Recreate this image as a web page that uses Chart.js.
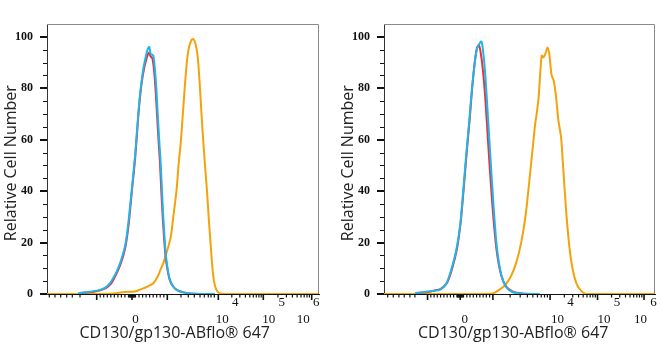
<!DOCTYPE html>
<html>
<head>
<meta charset="utf-8">
<script src="https://cdn.jsdelivr.net/npm/chart.js@4.4.1/dist/chart.umd.min.js"></script>
<style>
  body { margin: 0; background: #fff; overflow: hidden; }
  canvas { position: absolute; top: 0; }
  #leftChart { left: 0; }
  #rightChart { left: 337px; }
</style>
</head>
<body>
<canvas id="leftChart" width="330" height="350"></canvas>
<canvas id="rightChart" width="325" height="350"></canvas>
<script>
// x values are display channels along the biexponential axis (0 = left edge, 272 = right edge)

// left panel
const leftBlueX = [31, 38, 45, 53, 59, 63, 66.3, 70, 73, 76, 78.5, 81.3, 84.7, 88, 91.3, 93, 94.7, 96.5, 98, 100.3, 102.3, 103.5, 104.3, 106.3, 108, 109.5, 110.7, 112.2, 113.7, 115, 116.3, 117.7, 119, 121, 123, 126, 129.7, 135, 143, 153, 168];
const leftBlueY = [0.3, 0.7, 1.0, 1.6, 2.7, 4.2, 6.2, 9, 11.9, 15.5, 19.5, 27.5, 40.4, 53.4, 70.2, 77.5, 83.2, 88, 90.9, 94.8, 96.1, 93.5, 93.2, 92.8, 87, 79, 70.2, 60, 50.8, 40, 30, 21, 14.5, 9, 5.4, 3, 1.6, 0.8, 0.2, 0, 0];
const leftRedX = [33, 40, 47, 54, 60, 64, 67, 70.8, 73.8, 76.7, 79, 81.8, 85, 88.3, 91.5, 93.3, 95, 97, 99, 101.7, 103.5, 105.5, 107.3, 108.8, 110, 111.5, 113, 114.3, 115.7, 117.2, 118.6, 120.7, 122.8, 126, 129.7, 135, 143, 153, 168];
const leftRedY = [0.3, 0.6, 0.9, 1.5, 2.6, 4.0, 6.0, 9, 11.9, 15.5, 19.5, 27.5, 40.4, 53.4, 70.2, 77.5, 83, 87.5, 90.8, 93.8, 92.5, 91.5, 86, 78, 70, 60, 50.8, 40, 30, 21, 14.5, 9, 5.4, 3, 1.6, 0.8, 0.2, 0, 0];
const leftOrangeX = [0, 33, 63, 78, 88, 95, 101, 106.3, 111, 113.5, 116.3, 119.5, 123.7, 126.3, 129.7, 131.5, 134, 137.3, 139.7, 142, 144.5, 146, 148, 150.5, 152.5, 154.5, 156, 158, 160, 162, 163.5, 165.5, 167, 169, 172, 178, 272];
const leftOrangeY = [0, 0, 0.1, 0.8, 1.0, 2, 3, 4.2, 7, 9.5, 12, 16, 22, 30, 41, 50, 60, 78, 89.5, 96, 98.8, 99.2, 98, 93, 83, 70, 61, 50, 40, 28, 20, 10, 5, 2, 0.4, 0, 0];

// right panel
const rightBlueX = [31, 41, 49, 56, 62.7, 67.7, 72.7, 76.7, 79.5, 82.5, 85.5, 88.3, 91, 93.3, 95.3, 97.7, 99.3, 101.7, 104.3, 107, 110, 113.3, 117.7, 122.7, 129.3, 139.3, 156];
const rightBlueY = [0.4, 0.8, 1.2, 1.6, 4.2, 9.7, 17.4, 27.7, 40, 54, 67, 80, 89.5, 95.5, 97, 98.2, 95, 85, 69, 52, 34, 18, 7.5, 2.6, 0.7, 0.1, 0];
const rightRedX = [32, 42, 50, 57, 63.5, 68.5, 73.2, 77, 80, 83, 86, 88.5, 91, 93.2, 95.2, 97, 99.3, 101.5, 104, 106.5, 109.5, 113, 117.5, 122.5, 129, 139, 156];
const rightRedY = [0.3, 0.7, 1.3, 2, 4.5, 10, 17.5, 28, 41, 55, 68, 80, 90, 95.5, 96.8, 94, 87, 77, 62, 47, 31, 17, 7.5, 3, 1, 0.2, 0];
const rightOrangeX = [0, 96, 109.3, 114.3, 121, 127.7, 132.7, 137.7, 142, 145.3, 148.7, 151.7, 153.7, 155.3, 157, 158.3, 160, 162, 164.3, 166, 167.3, 168.3, 170.3, 172.7, 175, 177.7, 180, 182.7, 186, 189.3, 193.3, 197.7, 202.7, 272];
const rightOrangeY = [0, 0, 0.2, 1.3, 3.2, 7.1, 12.2, 20, 30.2, 41.8, 54.7, 66, 71.4, 77, 87, 92.7, 92, 93.5, 95.9, 93, 88, 85, 83, 76.6, 67.6, 61, 48.3, 32.8, 18.6, 9.7, 3.9, 1.3, 0, 0];

// y axis ticks
const yTickValues = [0, 20, 40, 60, 80, 100];
const yMinorTicks = [5, 10, 15, 25, 30, 35, 45, 50, 55, 65, 70, 75, 85, 90, 95];

// x axis tick labels (base + exponent)
const xTickLabels = ['0', '10', '10', '10'];
const xTickExps = ['', '4', '5', '6'];
const leftLabelPos = [85.2, 168.7, 215.3, 249.7];
const rightLabelPos = [77.7, 167.7, 214.3, 251];

// x axis tick marks
const leftXMajor = [49.7, 85, 120.3, 171.3, 216.3, 264.7];
const leftXMinor = [2.3, 8, 13.7, 19.7, 25.3, 33,
  53.2, 56.7, 60.3, 63.8, 67.3, 70.9, 74.4, 77.9, 81.5, 82.2, 82.9, 83.6, 84.3, 85.7, 86.4, 87.1, 87.8, 88.5,
  92, 95.6, 99.1, 102.6, 106.2, 109.7, 113.2, 116.8,
  134, 141.3, 147.3, 153, 157.3, 161.3, 164, 167.3,
  184.8, 192.8, 198.4, 202.8, 206.3, 209.3, 211.9, 214.2,
  230.9, 239.4, 245.4, 250.1, 254, 257.2, 260, 262.4];
const rightXMajor = [43.7, 76.5, 109.3, 166.7, 214.3, 261];
const rightXMinor = [3.7, 9.3, 15, 20.3, 26, 31,
  47, 50.3, 53.5, 56.8, 60.1, 63.4, 66.7, 69.9, 73.2, 73.9, 74.6, 75.3, 76, 77, 77.7, 78.4, 79.1, 79.8,
  83.1, 86.3, 89.6, 92.9, 96.2, 99.5, 102.7, 106,
  126.6, 136.7, 143.9, 149.4, 154, 157.8, 161.1, 164,
  181, 189.4, 195.3, 199.9, 203.7, 206.9, 209.6, 212.1,
  228.4, 236.6, 242.4, 246.9, 250.6, 253.7, 256.4, 258.8];

const BLUE = '#1fb5ea';
const RED = '#e6323e';
const ORANGE = '#f4a20c';

function pts(xs, ys) {
  return xs.map((x, i) => ({ x: x, y: ys[i] }));
}

// frame + tick marks drawn through the chart's own scales
const tickMarks = {
  id: 'tickMarks',
  afterDraw(chart, args, opts) {
    const ctx = chart.ctx;
    const a = chart.chartArea;
    const xs = chart.scales.x;
    const ys = chart.scales.y;
    ctx.save();
    ctx.strokeStyle = '#8a8a8a';
    ctx.lineWidth = 1;
    ctx.beginPath();
    ctx.moveTo(a.left, a.top + 0.5);
    ctx.lineTo(a.right - 0.5, a.top + 0.5);
    ctx.lineTo(a.right - 0.5, a.bottom);
    ctx.stroke();

    ctx.strokeStyle = '#111';
    const line = (x1, y1, x2, y2, w) => {
      ctx.lineWidth = w;
      ctx.beginPath();
      ctx.moveTo(x1, y1);
      ctx.lineTo(x2, y2);
      ctx.stroke();
    };
    yTickValues.forEach(v => {
      const p = Math.round(ys.getPixelForValue(v));
      line(a.left - 7, p, a.left, p, 2);
    });
    yMinorTicks.forEach(v => {
      const p = Math.round(ys.getPixelForValue(v)) + 0.5;
      line(a.left - 4, p, a.left, p, 1);
    });
    opts.major.forEach(v => {
      const p = xs.getPixelForValue(v);
      line(p, a.bottom, p, a.bottom + 6, 1.6);
    });
    opts.minor.forEach(v => {
      const p = xs.getPixelForValue(v);
      line(p, a.bottom, p, a.bottom + 3.5, 1.2);
    });
    ctx.restore();
  }
};

function makeChart(id, blue, red, orange, labelPos, major, minor, padRight, xTitle) {
  return new Chart(document.getElementById(id), {
    type: 'line',
    data: {
      datasets: [
        { data: blue, borderColor: BLUE, order: 0 },
        { data: red, borderColor: RED, order: 1 },
        { data: orange, borderColor: ORANGE, order: 2 }
      ]
    },
    options: {
      responsive: false,
      animation: false,
      layout: { padding: { top: 24, right: padRight, left: 0, bottom: 0 } },
      elements: {
        line: { borderWidth: 2, tension: 0.25, fill: false },
        point: { radius: 0 }
      },
      plugins: {
        legend: { display: false },
        tooltip: { enabled: false },
        tickMarks: { major: major, minor: minor }
      },
      scales: {
        x: {
          type: 'linear',
          min: 0,
          max: 272,
          afterBuildTicks: s => { s.ticks = labelPos.map(v => ({ value: v })); },
          afterFit: s => { s.height = 56; },
          grid: { drawOnChartArea: false, drawTicks: false },
          border: { color: '#111', width: 1 },
          ticks: {
            autoSkip: false,
            maxRotation: 0,
            align: 'start',
            padding: 0,
            color: '#111',
            font: { family: 'Liberation Serif', size: 13, lineHeight: 1.3 },
            // exponent on the first line, base on the second
            callback: (v, i) => [xTickExps[i] ? '     ' + xTickExps[i] : ' ', xTickLabels[i]]
          },
          title: {
            display: true,
            text: xTitle,
            color: '#222',
            font: { family: 'Open Sans', size: 16 },
            padding: { top: 0, bottom: 7 }
          }
        },
        y: {
          min: 0,
          max: 105,
          afterBuildTicks: s => { s.ticks = yTickValues.map(v => ({ value: v })); },
          afterFit: s => { s.width = 47; },
          grid: { drawOnChartArea: false, drawTicks: false },
          border: { color: '#333', width: 1 },
          ticks: {
            padding: 14,
            color: '#111',
            font: { family: 'Liberation Serif', size: 12, weight: 'bold' }
          },
          title: {
            display: true,
            text: 'Relative Cell Number  ',
            color: '#222',
            font: { family: 'Open Sans', size: 16 },
            padding: { top: 2, bottom: 0 }
          }
        }
      }
    },
    plugins: [tickMarks]
  });
}

makeChart('leftChart', pts(leftBlueX, leftBlueY), pts(leftRedX, leftRedY), pts(leftOrangeX, leftOrangeY),
  leftLabelPos, leftXMajor, leftXMinor, 11, 'CD130/gp130-ABflo® 647    ');
makeChart('rightChart', pts(rightBlueX, rightBlueY), pts(rightRedX, rightRedY), pts(rightOrangeX, rightOrangeY),
  rightLabelPos, rightXMajor, rightXMinor, 7, 'CD130/gp130-ABflo® 647   ');
</script>
</body>
</html>
